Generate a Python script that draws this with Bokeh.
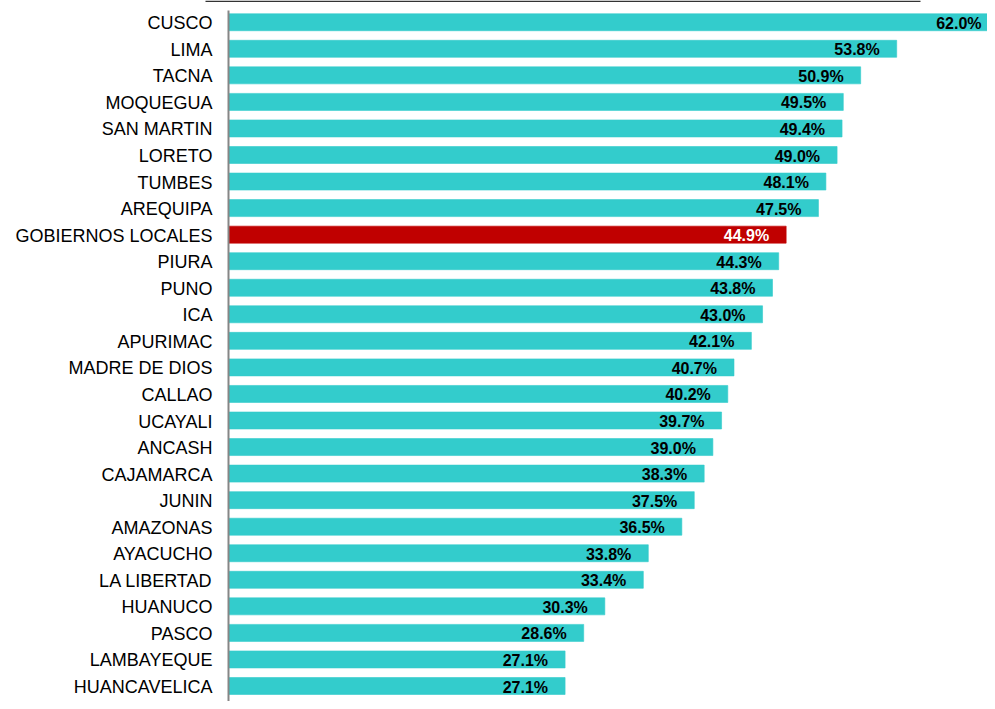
from bokeh.plotting import figure
from bokeh.models import ColumnDataSource, Range1d, BoxAnnotation
from bokeh.core.properties import value
from bokeh.embed import file_html
from bokeh.resources import INLINE

regions = ["CUSCO", "LIMA", "TACNA", "MOQUEGUA", "SAN MARTIN", "LORETO", "TUMBES",
           "AREQUIPA", "GOBIERNOS LOCALES", "PIURA", "PUNO", "ICA", "APURIMAC",
           "MADRE DE DIOS", "CALLAO", "UCAYALI", "ANCASH", "CAJAMARCA", "JUNIN",
           "AMAZONAS", "AYACUCHO", "LA LIBERTAD", "HUANUCO", "PASCO", "LAMBAYEQUE",
           "HUANCAVELICA"]
values = [62.0, 53.8, 50.9, 49.5, 49.4, 49.0, 48.1, 47.5, 44.9, 44.3, 43.8, 43.0, 42.1,
          40.7, 40.2, 39.7, 39.0, 38.3, 37.5, 36.5, 33.8, 33.4, 30.3, 28.6, 27.1, 27.1]
highlight = "GOBIERNOS LOCALES"

pos = list(range(len(regions)))
colors = ["#C00000" if r == highlight else "#33CCCC" for r in regions]
label_colors = ["#FFFFFF" if r == highlight else "#000000" for r in regions]
labels = ["%.1f%%" % v for v in values]

src = ColumnDataSource(dict(y=pos, v=values, c=colors, lc=label_colors,
                            lab=labels, name=regions))

W, H = 987, 701
PX = 12.42          # pixels per percentage point
X0 = 228            # pixel of the value axis origin
ROW0, ROW = 21.75, 26.55

p = figure(width=W, height=H, output_backend="svg", toolbar_location=None,
           x_range=Range1d(-X0 / PX, (W - X0) / PX),
           y_range=Range1d((H - ROW0) / ROW, -ROW0 / ROW),
           min_border_left=0, min_border_right=0, min_border_top=0, min_border_bottom=0)
p.xaxis.visible = False
p.yaxis.visible = False
p.xgrid.visible = False
p.ygrid.visible = False
p.outline_line_color = None

p.hbar(y="y", left=0, right="v", height=0.64, fill_color="c", line_color="c",
       line_alpha=0.6, source=src)
p.text(x="v", y="y", text="lab", text_color="lc", text_align="right",
       text_baseline="middle", x_offset=-17, y_offset=1,
       text_font=value("Liberation Sans"), text_font_style="bold",
       text_font_size="16px", source=src)

# category labels (left of the value axis)
p.text(x=0, y="y", text="name", text_color="#000000", text_align="right",
       text_baseline="middle", x_offset=-16, y_offset=1,
       text_font=value("Liberation Sans"), text_font_size="18px", source=src)

# vertical axis line
p.add_layout(BoxAnnotation(left=X0 - 1, right=X0 + 1, left_units="screen",
                           right_units="screen",
                           top=(10 - ROW0) / ROW, bottom=(H - ROW0) / ROW,
                           fill_color="#868686", fill_alpha=1, line_color=None))
# thin rule at the very top
p.add_layout(BoxAnnotation(left=205, right=920, left_units="screen",
                           right_units="screen",
                           top=-ROW0 / ROW, bottom=(1.6 - ROW0) / ROW,
                           fill_color="#333333", fill_alpha=1, line_color=None))

open("out.html", "w").write(file_html(p, INLINE))
